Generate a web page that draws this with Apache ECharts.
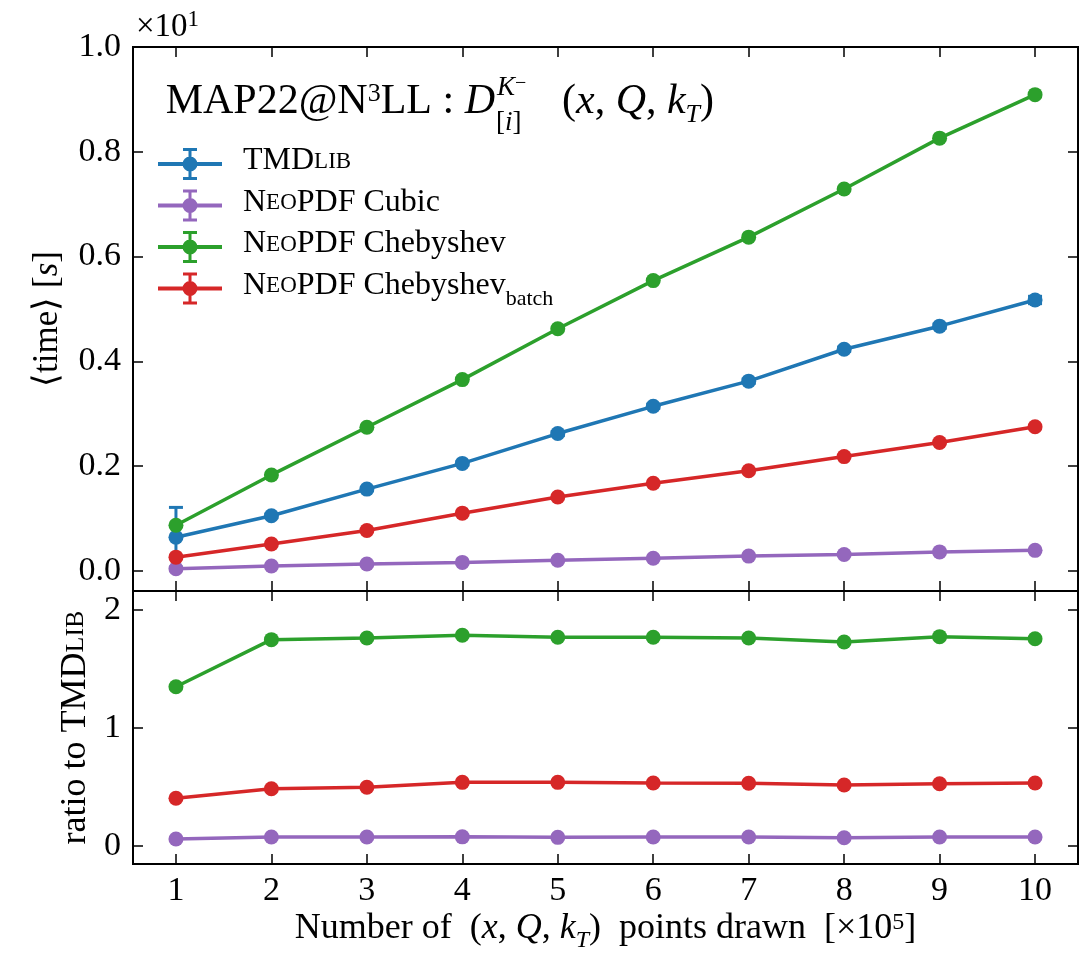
<!DOCTYPE html>
<html>
<head>
<meta charset="utf-8">
<script src="https://cdn.jsdelivr.net/npm/echarts@6/dist/echarts.min.js"></script>
<style>
  html, body { margin: 0; padding: 0; background: #fff; }
  #chart { width: 1084px; height: 954px; }
</style>
</head>
<body>
<div id="chart"></div>
<script>
'use strict';

// points drawn, in units of 1e5
var xPoints = [1, 2, 3, 4, 5, 6, 7, 8, 9, 10];

// mean time per call (axis shows values x10^1)
var timeTmdlib = [0.064, 0.105, 0.156, 0.205, 0.262, 0.314, 0.362, 0.423, 0.467, 0.517];
var errTmdlib = [0.057, 0.003, 0.003, 0.003, 0.004, 0.004, 0.004, 0.004, 0.004, 0.007];
var timeCubic = [0.004, 0.009, 0.013, 0.016, 0.020, 0.024, 0.028, 0.031, 0.036, 0.039];
var timeCheb = [0.087, 0.183, 0.274, 0.365, 0.462, 0.554, 0.637, 0.729, 0.826, 0.909];
var timeBatch = [0.026, 0.051, 0.077, 0.110, 0.141, 0.167, 0.191, 0.218, 0.245, 0.275];

// ratio to TMDlib
var ratioCubic = [0.057, 0.074, 0.074, 0.075, 0.071, 0.074, 0.074, 0.068, 0.074, 0.074];
var ratioCheb = [1.347, 1.746, 1.760, 1.783, 1.766, 1.766, 1.760, 1.726, 1.771, 1.754];
var ratioBatch = [0.402, 0.483, 0.495, 0.537, 0.537, 0.531, 0.529, 0.514, 0.525, 0.531];

var seriesNames = ['TMDlib', 'NeoPDF Cubic', 'NeoPDF Chebyshev', 'NeoPDF Chebyshev batch'];
var colors = ['#1f77b4', '#9467bd', '#2ca02c', '#d62728'];

var FONT = 'Liberation Serif';

function pairs(ys) {
    return xPoints.map(function (x, i) { return [x, ys[i]]; });
}

function onStep(v, step) {
    var k = v / step;
    return Math.abs(k - Math.round(k)) < 1e-6;
}

// errorbar-like legend glyph
var errIcon = 'path://M0 14H64V18H0Z M30.5 1H33.5V31H30.5Z M25 0H39V3H25Z M25 29H39V32H25Z ' +
    'M24.5 16A7.5 7.5 0 1 1 39.5 16A7.5 7.5 0 1 1 24.5 16Z';

var chart = echarts.init(document.getElementById('chart'), null, { renderer: 'canvas' });

function lineSeries(name, ys, color, xi, yi, z) {
    return {
        name: name,
        type: 'line',
        xAxisIndex: xi,
        yAxisIndex: yi,
        data: pairs(ys),
        symbol: 'circle',
        symbolSize: 15,
        color: color,
        lineStyle: { width: 3.5, color: color },
        itemStyle: { color: color },
        z: z
    };
}

function errRender(params, api) {
    var x = api.value(0);
    var lo = api.coord([x, api.value(1)]);
    var hi = api.coord([x, api.value(2)]);
    var st = { stroke: colors[0], lineWidth: 3 };
    return {
        type: 'group',
        children: [
            { type: 'line', shape: { x1: lo[0], y1: lo[1], x2: hi[0], y2: hi[1] }, style: st },
            { type: 'line', shape: { x1: hi[0] - 7, y1: hi[1], x2: hi[0] + 7, y2: hi[1] }, style: st },
            { type: 'line', shape: { x1: lo[0] - 7, y1: lo[1], x2: lo[0] + 7, y2: lo[1] }, style: st }
        ]
    };
}

var errData = xPoints.map(function (x, i) {
    return [x, timeTmdlib[i] - errTmdlib[i], timeTmdlib[i] + errTmdlib[i]];
});

var tickStyle = { show: true, inside: true, length: 10, lineStyle: { color: '#000', width: 1.5 } };

function xAx(grid, pos, withLabels) {
    return {
        type: 'value',
        gridIndex: grid,
        position: pos,
        min: 0.55,
        max: 10.45,
        splitNumber: 10,
        axisLine: { show: false, onZero: false },
        axisTick: tickStyle,
        splitLine: { show: false },
        axisLabel: {
            show: withLabels,
            margin: 10,
            color: '#000',
            fontFamily: FONT,
            fontSize: 34,
            formatter: function (v) { return onStep(v, 1) ? String(Math.round(v)) : ''; }
        }
    };
}

function yAx(grid, pos, min, max, split, step, digits, withLabels) {
    return {
        type: 'value',
        gridIndex: grid,
        position: pos,
        min: min,
        max: max,
        splitNumber: split,
        axisLine: { show: false, onZero: false },
        axisTick: tickStyle,
        splitLine: { show: false },
        axisLabel: {
            show: withLabels,
            margin: 12,
            color: '#000',
            fontFamily: FONT,
            fontSize: 34,
            formatter: function (v) { return onStep(v, step) ? v.toFixed(digits) : ''; }
        }
    };
}

var xBottom = xAx(1, 'bottom', true);
xBottom.name = '{n|Number of  (}{it|x}{n|, }{it|Q}{n|, }{it|k}{sub|T}{n|)  points drawn  [×10}{sup|5}{n|]}';
xBottom.nameLocation = 'middle';
xBottom.nameGap = 47;
xBottom.nameTextStyle = {
    color: '#000',
    rich: {
        n: { fontFamily: FONT, fontSize: 36, lineHeight: 40, verticalAlign: 'top', color: '#000' },
        it: { fontFamily: FONT, fontStyle: 'italic', fontSize: 36, lineHeight: 40, verticalAlign: 'top', color: '#000' },
        sub: { fontFamily: FONT, fontStyle: 'italic', fontSize: 24, lineHeight: 24, verticalAlign: 'top', padding: [18, 0, 0, 0], color: '#000' },
        sup: { fontFamily: FONT, fontSize: 24, lineHeight: 24, verticalAlign: 'top', color: '#000' }
    }
};

var yTop = yAx(0, 'left', -0.0386, 1.0, 5, 0.2, 1, true);
yTop.name = '{n|⟨time⟩ [}{it|s}{n|]}';
yTop.nameLocation = 'middle';
yTop.nameGap = 68;
yTop.nameTextStyle = {
    color: '#000',
    rich: {
        n: { fontFamily: FONT, fontSize: 35, color: '#000' },
        it: { fontFamily: FONT, fontStyle: 'italic', fontSize: 35, color: '#000' }
    }
};

var yBot = yAx(1, 'left', -0.155, 2.158, 2, 1, 0, true);
yBot.name = '{n|ratio to TMD}{sc|LIB}';
yBot.nameLocation = 'middle';
yBot.nameGap = 35;
yBot.nameTextStyle = {
    color: '#000',
    rich: {
        n: { fontFamily: FONT, fontSize: 36, lineHeight: 40, verticalAlign: 'top', color: '#000' },
        sc: { fontFamily: FONT, fontSize: 26, lineHeight: 26, verticalAlign: 'top', padding: [6, 0, 0, 0], color: '#000' }
    }
};

var legendText = {
    'TMDlib': '{n|TMD}{sc|LIB}',
    'NeoPDF Cubic': '{n|N}{sc|EO}{n|PDF Cubic}',
    'NeoPDF Chebyshev': '{n|N}{sc|EO}{n|PDF Chebyshev}',
    'NeoPDF Chebyshev batch': '{n|N}{sc|EO}{n|PDF Chebyshev}{sub|batch}'
};

var option = {
    animation: false,
    backgroundColor: '#fff',
    grid: [
        { left: 133, right: 6, top: 47, height: 544, show: true, borderColor: '#000', borderWidth: 2, backgroundColor: 'transparent' },
        { left: 133, right: 6, top: 591, height: 273, show: true, borderColor: '#000', borderWidth: 2, backgroundColor: 'transparent' }
    ],
    xAxis: [
        xAx(0, 'bottom', false),
        xAx(0, 'top', false),
        xBottom,
        xAx(1, 'top', false)
    ],
    yAxis: [
        yTop,
        yAx(0, 'right', -0.0386, 1.0, 5, 0.2, 1, false),
        yBot,
        yAx(1, 'right', -0.155, 2.158, 2, 1, 0, false)
    ],
    legend: {
        orient: 'vertical',
        left: 153,
        top: 140,
        itemWidth: 64,
        itemHeight: 32,
        itemGap: 6.5,
        selectedMode: false,
        data: seriesNames.map(function (n) { return { name: n, icon: errIcon }; }),
        formatter: function (name) { return legendText[name]; },
        textStyle: {
            padding: [0, 0, 0, 16],
            rich: {
                n: { fontFamily: FONT, fontSize: 32, lineHeight: 38, verticalAlign: 'top', color: '#000' },
                sc: { fontFamily: FONT, fontSize: 23, lineHeight: 23, verticalAlign: 'top', padding: [5, 0, 0, 0], color: '#000' },
                sub: { fontFamily: FONT, fontSize: 22, lineHeight: 22, verticalAlign: 'top', padding: [19, 0, 0, 0], color: '#000' }
            }
        }
    },
    graphic: [
        {
            type: 'text', left: 136, top: 8,
            style: {
                text: '{n|×10}{sup|1}',
                rich: {
                    n: { fontFamily: FONT, fontSize: 33, lineHeight: 36, verticalAlign: 'bottom', fill: '#000' },
                    sup: { fontFamily: FONT, fontSize: 23, lineHeight: 23, verticalAlign: 'top', fill: '#000' }
                }
            }
        },
        {
            type: 'text', x: 495, y: 81,
            style: {
                text: '{n|MAP22@N}{sup|3}{n|LL : }{it|D}',
                align: 'right',
                verticalAlign: 'top',
                rich: {
                    n: { fontFamily: FONT, fontSize: 42, lineHeight: 48, verticalAlign: 'top', fill: '#000' },
                    it: { fontFamily: FONT, fontStyle: 'italic', fontSize: 42, lineHeight: 48, verticalAlign: 'top', fill: '#000' },
                    sup: { fontFamily: FONT, fontSize: 26, lineHeight: 26, verticalAlign: 'top', padding: [0, 0, 0, 0], fill: '#000' }
                }
            }
        },
        {
            type: 'text', x: 497, y: 74,
            style: {
                text: '{it|K}{sup|−}',
                verticalAlign: 'top',
                rich: {
                    it: { fontFamily: FONT, fontStyle: 'italic', fontSize: 27, lineHeight: 30, verticalAlign: 'top', fill: '#000' },
                    sup: { fontFamily: FONT, fontSize: 20, lineHeight: 20, verticalAlign: 'top', fill: '#000' }
                }
            }
        },
        {
            type: 'text', x: 496, y: 109,
            style: {
                text: '{n|[}{it|i}{n|]}',
                verticalAlign: 'top',
                rich: {
                    n: { fontFamily: FONT, fontSize: 27, lineHeight: 30, verticalAlign: 'top', fill: '#000' },
                    it: { fontFamily: FONT, fontStyle: 'italic', fontSize: 27, lineHeight: 30, verticalAlign: 'top', fill: '#000' }
                }
            }
        },
        {
            type: 'text', x: 562, y: 81,
            style: {
                text: '{n|(}{it|x}{n|, }{it|Q}{n|, }{it|k}{sub|T}{n|)}',
                verticalAlign: 'top',
                rich: {
                    n: { fontFamily: FONT, fontSize: 42, lineHeight: 48, verticalAlign: 'top', fill: '#000' },
                    it: { fontFamily: FONT, fontStyle: 'italic', fontSize: 42, lineHeight: 48, verticalAlign: 'top', fill: '#000' },
                    sub: { fontFamily: FONT, fontStyle: 'italic', fontSize: 26, lineHeight: 26, verticalAlign: 'top', padding: [21, 0, 0, 0], fill: '#000' }
                }
            }
        }
    ],
    series: [
        {
            name: 'TMDlib err',
            type: 'custom',
            xAxisIndex: 0,
            yAxisIndex: 0,
            renderItem: errRender,
            data: errData,
            z: 1
        },
        lineSeries(seriesNames[0], timeTmdlib, colors[0], 0, 0, 2),
        lineSeries(seriesNames[1], timeCubic, colors[1], 0, 0, 3),
        lineSeries(seriesNames[2], timeCheb, colors[2], 0, 0, 4),
        lineSeries(seriesNames[3], timeBatch, colors[3], 0, 0, 5),
        lineSeries(seriesNames[1], ratioCubic, colors[1], 2, 2, 3),
        lineSeries(seriesNames[2], ratioCheb, colors[2], 2, 2, 4),
        lineSeries(seriesNames[3], ratioBatch, colors[3], 2, 2, 5)
    ]
};

chart.setOption(option);
</script>
</body>
</html>
